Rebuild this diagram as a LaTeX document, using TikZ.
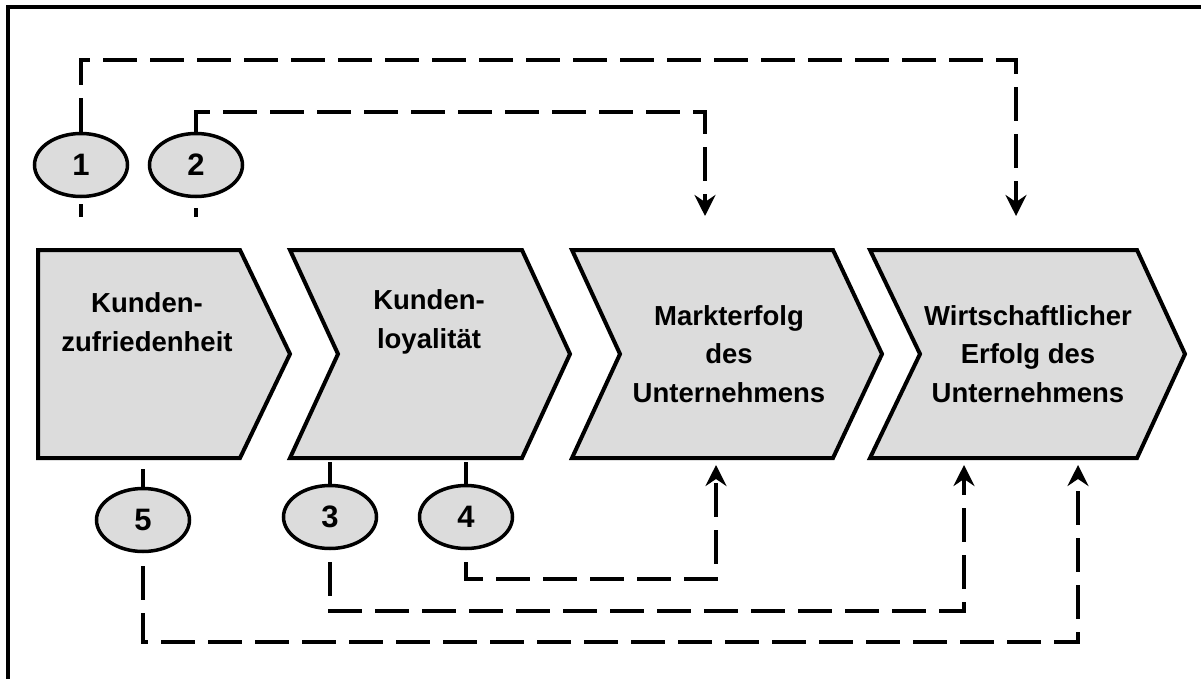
\documentclass[tikz,border=0pt]{standalone}
\usepackage{fontspec}
\setmainfont{Liberation Sans}
\usetikzlibrary{arrows.meta,shapes.geometric}
\definecolor{boxgray}{RGB}{220,220,220}
\tikzset{
  chev/.style={draw=black, fill=boxgray, line width=4pt, line join=miter},
  lbl/.style={font=\fontsize{27.5}{38.5}\selectfont\bfseries, align=center, inner sep=0pt},
  num/.style={ellipse, draw=black, fill=boxgray, line width=3.5pt, minimum width=93pt, minimum height=63pt, inner sep=0pt, font=\fontsize{31}{32}\selectfont\bfseries},
  rel/.style={line width=4pt, line join=miter, dash pattern=on 34pt off 13pt},
  relarrow/.style={rel, -{Stealth[length=21pt,width=21pt,inset=7pt]}},
  stub/.style={line width=4pt},
  frame/.style={line width=3.3pt}
}
\begin{document}
\begin{tikzpicture}[x=1pt,y=-1pt]
\useasboundingbox (0,0) rectangle (1201,679);
\clip (0,0) rectangle (1201,679);
\draw[frame] (1220,7) -- (8,7) -- (8,700);

% chevrons
\draw[chev] (38,250) -- (240,250) -- (290,354) -- (240,458) -- (38,458) -- cycle;
\draw[chev] (290,250) -- (522,250) -- (570,354) -- (522,458) -- (290,458) -- (338,354) -- cycle;
\draw[chev] (572,250) -- (833,250) -- (882,354) -- (833,458) -- (572,458) -- (620,354) -- cycle;
\draw[chev] (870,250) -- (1137,250) -- (1185,354) -- (1137,458) -- (870,458) -- (920,354) -- cycle;

\node[lbl] (c1) at (147,322) {Kunden-\\zufriedenheit};
\node[lbl] (c2) at (429,322) {Kunden-\\loyalität};
\node[lbl] (c3) at (729,354) {Markterfolg\\des\\Unternehmens};
\node[lbl] (c4) at (1028,354) {Wirtschaftlicher\\Erfolg des\\Unternehmens};

% numbered ellipses
\node[num] (e1) at (81,165) {1};
\node[num] (e2) at (196,165) {2};
\node[num] (e5) at (143,520) {5};
\node[num] (e3) at (330,517) {3};
\node[num] (e4) at (466,517) {4};

% arrow end points
\coordinate (t1) at (1016,216);
\coordinate (t2) at (705,216);
\coordinate (b4) at (716,465);
\coordinate (b3) at (964,465);
\coordinate (b5) at (1078,465);

% stubs
\draw[stub] ([yshift=-6pt]e1.south) -- ++(0,13);
\draw[stub] ([yshift=-10pt]e2.south) -- ++(0,9);
\draw[stub] (e5.north) -- ++(0,-18);
\draw[stub] (e3.north) -- ++(0,-22);
\draw[stub] (e4.north) -- ++(0,-22);

% relations
\draw[relarrow] (e1.north) -- (e1.north |- 0,60) -| (t1);
\draw[relarrow] (e2.north) -- (e2.north |- 0,112) -| (t2);
\draw[relarrow] ([yshift=-12pt]e4.south) -- (e4.south |- 0,579) -| (b4);
\draw[relarrow] ([yshift=-12pt]e3.south) -- (e3.south |- 0,611) -| (b3);
\draw[relarrow] ([yshift=-13pt]e5.south) -- (e5.south |- 0,642) -| (b5);
\end{tikzpicture}
\end{document}
